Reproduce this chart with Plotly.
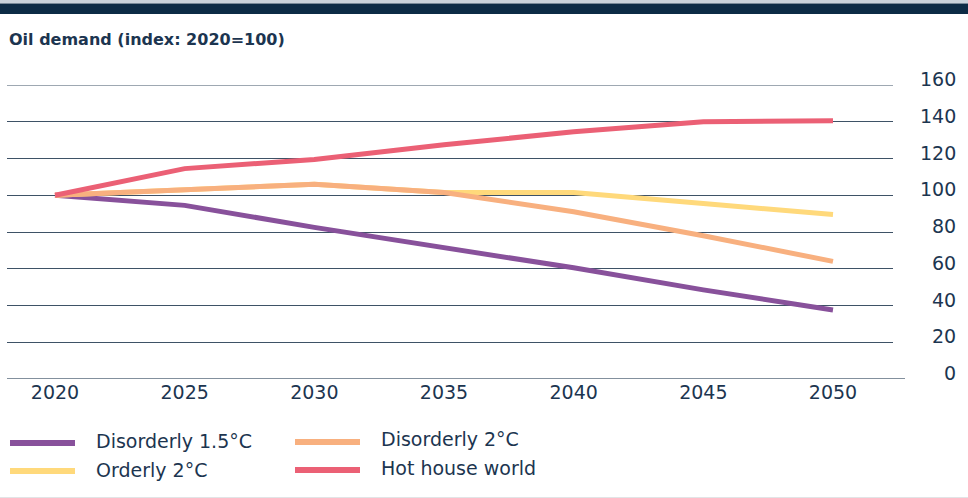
import plotly.graph_objects as go

# ---- data ----
years = [2020, 2025, 2030, 2035, 2040, 2045, 2050]
disorderly_15 = [100, 94.5, 82.5, 71.5, 60.5, 48.5, 37.5]
orderly_2 = [100, 103, 106, 101.5, 101.5, 95.5, 89.5]
disorderly_2 = [100, 103, 106, 101.5, 91, 78, 64]
hot_house = [100, 114.5, 119.5, 127.5, 134.5, 140, 140.5]
y_ticks = [0, 20, 40, 60, 80, 100, 120, 140, 160]
y_tick_labels = [str(v) for v in y_ticks]
x_tick_labels = [str(v) for v in years]

series = [
    ("Disorderly 1.5°C", disorderly_15, "#88519B"),
    ("Orderly 2°C", orderly_2, "#FFD97B"),
    ("Disorderly 2°C", disorderly_2, "#F8B07F"),
    ("Hot house world", hot_house, "#EB6075"),
]

TEXT = "#1C3550"
FONT = "DejaVu Sans"
GRID = "#3E5266"
W, H = 968, 498
ML, MR, MT, MB = 7, 75, 85, 119
PW = W - ML - MR
PH = H - MT - MB


def px(x):
    return (x - ML) / PW


def py(y):
    return (H - MB - y) / PH


fig = go.Figure()
for name, vals, col in series:
    fig.add_trace(go.Scatter(x=years, y=vals, mode="lines", name=name,
                             line=dict(color=col, width=5), showlegend=False,
                             hoverinfo="skip"))

shapes = []
annotations = []

# top bar
shapes.append(dict(type="rect", xref="paper", yref="paper", x0=px(0), x1=px(W),
                   y0=py(3.5), y1=py(0), fillcolor="#C9D2DA", line_width=0, layer="below"))
shapes.append(dict(type="rect", xref="paper", yref="paper", x0=px(0), x1=px(W),
                   y0=py(14), y1=py(3.5), fillcolor="#0C2B45", line_width=0, layer="below"))
# bottom separator
shapes.append(dict(type="line", xref="paper", yref="paper", x0=px(0), x1=px(W),
                   y0=py(497.5), y1=py(497.5), line=dict(color="#E2E4E6", width=1)))
# top gridline (plot edge)
shapes.append(dict(type="line", xref="paper", yref="y", x0=0, x1=1,
                   y0=y_ticks[-1], y1=y_ticks[-1], line=dict(color=GRID, width=1),
                   layer="below"))
# zero line extended
shapes.append(dict(type="line", xref="paper", yref="y", x0=px(7), x1=px(905),
                   y0=0, y1=0, line=dict(color="#5A6B7C", width=1.3)))

# title
annotations.append(dict(text="<b>Oil demand (index: 2020=100)</b>", xref="paper", yref="paper",
                        x=px(7), y=py(39), xanchor="left", yanchor="middle", showarrow=False,
                        font=dict(family=FONT, size=16, color=TEXT)))

# y tick labels (right aligned)
for v, lab in zip(y_ticks, y_tick_labels):
    annotations.append(dict(text=lab, xref="paper", yref="y", x=px(958), y=v,
                            xanchor="right", yanchor="middle", yshift=6, showarrow=False,
                            font=dict(family=FONT, size=19, color=TEXT)))

# legend
legend_pos = {
    "Disorderly 1.5°C": (7, 443, 96, 440.7),
    "Orderly 2°C": (7, 471, 96, 470),
    "Disorderly 2°C": (292, 442, 381, 439),
    "Hot house world": (292, 470, 381, 467.7),
}
for name, vals, col in series:
    lx, ly, tx, ty = legend_pos[name]
    shapes.append(dict(type="line", xref="paper", yref="paper", x0=px(lx + 3), x1=px(lx + 68),
                       y0=py(ly), y1=py(ly), line=dict(color=col, width=6)))
    annotations.append(dict(text=name, xref="paper", yref="paper", x=px(tx - 2), y=py(ty),
                            xanchor="left", yanchor="middle", showarrow=False,
                            font=dict(family=FONT, size=19, color=TEXT)))

fig.update_layout(
    width=W, height=H,
    margin=dict(l=ML, r=MR, t=MT, b=MB, pad=0),
    paper_bgcolor="white", plot_bgcolor="white",
    shapes=shapes, annotations=annotations,
    xaxis=dict(range=[2018.149, 2052.314], tickvals=years, ticktext=x_tick_labels,
               showgrid=False, zeroline=False, showline=False, ticks="",
               tickfont=dict(family=FONT, size=19, color=TEXT), fixedrange=True),
    yaxis=dict(range=[0, 160], tickvals=y_ticks, showticklabels=False,
               showgrid=True, gridcolor=GRID, gridwidth=1, zeroline=False,
               showline=False, ticks="", fixedrange=True),
)

fig.write_html("out.html", config={"displayModeBar": False},
               post_script="document.body.style.margin='0px';document.body.style.overflow='hidden';")
